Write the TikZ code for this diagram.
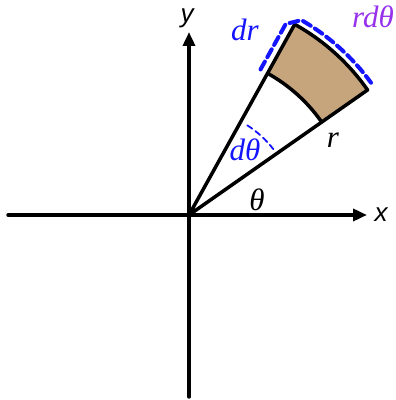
\documentclass[tikz,border=0pt]{standalone}
\usepackage{fontspec}
\setmainfont{Liberation Serif}
\setsansfont{Liberation Sans}
\usetikzlibrary{arrows.meta}
\definecolor{sandfill}{RGB}{198,165,125}
\definecolor{dthblue}{RGB}{20,20,255}
\definecolor{arcviolet}{RGB}{150,50,235}
\begin{document}
\begin{tikzpicture}[x=1pt, y=1pt, line join=round, line cap=round, >={Triangle[length=14pt,width=12pt]},
	declare function={a=35;b=61;r=162;R=218;},
	axis/.style={line width=3.5pt, ->},
	edge/.style={line width=3.5pt},
	lbl/.style={font=\fontsize{31}{33}\selectfont\rmfamily\itshape, inner sep=0pt},
	axlbl/.style={font=\fontsize{26}{28}\selectfont\sffamily\itshape, inner sep=0pt}]
	\useasboundingbox (0,0) rectangle (396,400);
	\begin{scope}[shift={(189,185)}]
		\coordinate (O) at (0,0);
		\fill[sandfill] (b:r) -- (b:R) arc[start angle=b, end angle=a, radius=R] -- (a:r) arc[start angle=a, end angle=b, radius=r] -- cycle;
		\draw[axis] (-181,0) -- (178,0);
		\draw[axis] (0,-182) -- (0,183);
		\draw[edge] (O) -- (b:R) arc[start angle=b, end angle=a, radius=R] -- cycle;
		\draw[edge] (b:r) arc[start angle=b, end angle=a, radius=r];
		\draw[dthblue, line width=4pt, dash pattern=on 9pt off 5pt] (b:r) ++(b+90:8) -- ++(b:R-r-4) -- (b-1:R+7) arc[start angle=b-1, end angle=a+1, radius=R+7];
		\draw[dthblue, line width=1.8pt, dash pattern=on 6pt off 4pt] (57:107) arc[start angle=57, end angle=38, radius=107];
		\node[axlbl] (lbly) at (-2,197) {y};
		\node[axlbl] (lblx) at (192,0) {x};
		\node[lbl, dthblue] (lbldr) at (56,185) {dr};
		\node[lbl, arcviolet] (lblrdth) at (184,198) {rdθ};
		\node[lbl, dthblue] (lbldth) at (56,65) {dθ};
		\node[lbl] (lblr) at (144,75) {r};
		\node[lbl] (lblth) at (68,15) {θ};
	\end{scope}
\end{tikzpicture}
\end{document}
